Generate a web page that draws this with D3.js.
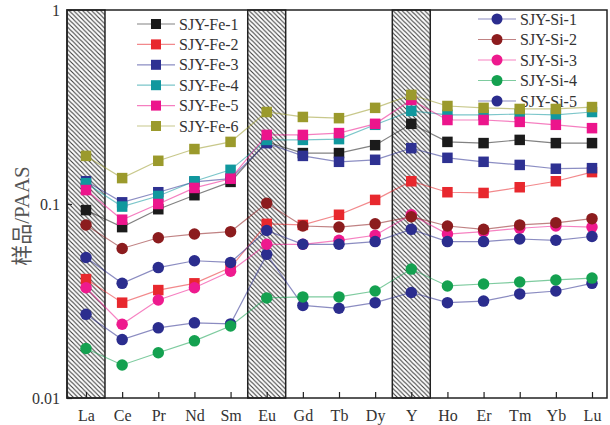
<!DOCTYPE html>
<html>
<head>
<meta charset="utf-8">
<script src="https://cdn.jsdelivr.net/npm/d3@7/dist/d3.min.js"></script>
<style>
  html, body { margin: 0; padding: 0; background: #fff; }
  svg { display: block; }
  .serif { font-family: "Liberation Serif", "DejaVu Serif", "Times New Roman", Times, serif; }
</style>
</head>
<body>
<div id="chart"></div>
<script>
"use strict";

// REE + Y, normalised to PAAS
const elements = ["La", "Ce", "Pr", "Nd", "Sm", "Eu", "Gd", "Tb", "Dy", "Y", "Ho", "Er", "Tm", "Yb", "Lu"];
const hatchedElements = ["La", "Eu", "Y"];
const yTicks = [1, 0.1, 0.01];
const yTickLabels = ["1", "0.1", "0.01"];

const fe1 = [0.093, 0.076, 0.094, 0.111, 0.130, 0.209, 0.183, 0.183, 0.201, 0.259, 0.209, 0.206, 0.214, 0.206, 0.206];
const fe2 = [0.041, 0.031, 0.036, 0.039, 0.047, 0.079, 0.078, 0.088, 0.105, 0.131, 0.115, 0.114, 0.122, 0.131, 0.146];
const fe3 = [0.131, 0.102, 0.115, 0.130, 0.135, 0.206, 0.177, 0.165, 0.169, 0.194, 0.173, 0.165, 0.159, 0.152, 0.153];
const fe4 = [0.128, 0.097, 0.110, 0.131, 0.150, 0.214, 0.214, 0.216, 0.256, 0.302, 0.288, 0.288, 0.291, 0.288, 0.298];
const fe5 = [0.118, 0.083, 0.100, 0.121, 0.135, 0.227, 0.227, 0.232, 0.259, 0.344, 0.271, 0.271, 0.265, 0.256, 0.246];
const fe6 = [0.177, 0.136, 0.167, 0.192, 0.209, 0.298, 0.281, 0.277, 0.313, 0.365, 0.320, 0.313, 0.309, 0.309, 0.316];

const si1 = [0.053, 0.039, 0.047, 0.051, 0.050, 0.073, 0.062, 0.062, 0.064, 0.074, 0.064, 0.064, 0.066, 0.065, 0.068];
const si2 = [0.078, 0.059, 0.067, 0.070, 0.072, 0.101, 0.077, 0.076, 0.079, 0.086, 0.077, 0.074, 0.078, 0.080, 0.084];
const si3 = [0.037, 0.024, 0.032, 0.037, 0.045, 0.062, 0.062, 0.065, 0.069, 0.088, 0.070, 0.072, 0.075, 0.077, 0.076];
const si4 = [0.018, 0.0148, 0.0171, 0.0197, 0.0235, 0.0328, 0.0332, 0.0332, 0.0356, 0.0462, 0.0378, 0.0387, 0.0396, 0.0406, 0.0415];
const si5 = [0.027, 0.020, 0.023, 0.0244, 0.0241, 0.055, 0.030, 0.029, 0.031, 0.035, 0.031, 0.0316, 0.0344, 0.0356, 0.039];

const feSeries = [
  { name: "SJY-Fe-1", values: fe1, color: "#1b1b1b" },
  { name: "SJY-Fe-2", values: fe2, color: "#e8282e" },
  { name: "SJY-Fe-3", values: fe3, color: "#2e3192" },
  { name: "SJY-Fe-4", values: fe4, color: "#10989e" },
  { name: "SJY-Fe-5", values: fe5, color: "#ec158c" },
  { name: "SJY-Fe-6", values: fe6, color: "#9b9a2c" }
];
const siSeries = [
  { name: "SJY-Si-1", values: si1, color: "#2b2d8e" },
  { name: "SJY-Si-2", values: si2, color: "#8c1c1e" },
  { name: "SJY-Si-3", values: si3, color: "#ee1a8e" },
  { name: "SJY-Si-4", values: si4, color: "#14a150" },
  { name: "SJY-Si-5", values: si5, color: "#2b2d8e" }
];

const W = 610, H = 425;
const plotL = 67, plotR = 607, plotT = 10, plotB = 398;

const x = d3.scalePoint().domain(elements).range([plotL + 19, plotR - 15]);
const y = d3.scaleLog().domain([0.01, 1]).range([plotB, plotT]);
const bandW = x.step() * 1.05;

const svg = d3.select("#chart").append("svg")
  .attr("width", W).attr("height", H)
  .attr("viewBox", `0 0 ${W} ${H}`);

// hatch pattern
const defs = svg.append("defs");
const pat = defs.append("pattern")
  .attr("id", "hatch")
  .attr("patternUnits", "userSpaceOnUse")
  .attr("width", 4.5).attr("height", 4.5);
pat.append("rect").attr("width", 4.5).attr("height", 4.5).attr("fill", "#fff");
pat.append("path")
  .attr("d", "M-1,-1 L5.5,5.5 M-1,3.5 L1,5.5 M3.5,-1 L5.5,1")
  .attr("stroke", "#3a3a3a").attr("stroke-width", 1.1);

// hatched bands
svg.selectAll("rect.band")
  .data(hatchedElements)
  .join("rect")
  .attr("class", "band")
  .attr("x", (d) => x(d) - bandW / 2)
  .attr("y", plotT)
  .attr("width", bandW)
  .attr("height", plotB - plotT)
  .attr("fill", "url(#hatch)")
  .attr("stroke", "#222")
  .attr("stroke-width", 1.5);

// axes with inward ticks
const xAxis = svg.append("g")
  .attr("transform", `translate(0,${plotB})`)
  .call(d3.axisBottom(x).tickSizeInner(-6).tickSizeOuter(0).tickPadding(12));
const yAxis = svg.append("g")
  .attr("transform", `translate(${plotL},0)`)
  .call(d3.axisLeft(y).tickValues(yTicks)
    .tickFormat((d, i) => yTickLabels[i])
    .tickSizeInner(-5).tickSizeOuter(0).tickPadding(7));
[xAxis, yAxis].forEach((g) => {
  g.attr("font-family", null).attr("font-size", null);
  g.select(".domain").remove();
  g.selectAll("line").attr("stroke", "#222").attr("stroke-width", 1.2);
  g.selectAll("text")
    .attr("class", "serif")
    .style("font-size", "16px")
    .attr("fill", "#333");
});

// frame
svg.append("rect")
  .attr("x", plotL).attr("y", plotT)
  .attr("width", plotR - plotL).attr("height", plotB - plotT)
  .attr("fill", "none")
  .attr("stroke", "#222")
  .attr("stroke-width", 1.5);

// y label
svg.append("text")
  .attr("transform", `translate(29,${(plotT + plotB) / 2 + 12}) rotate(-90)`)
  .attr("text-anchor", "middle")
  .style("font-family", "'Liberation Serif', 'DejaVu Serif', 'Noto Sans CJK SC', serif")
  .style("font-size", "21px")
  .attr("fill", "#555")
  .text("样品/PAAS");

function marker(g, shape, color, cx, cy, size) {
  if (shape === "square") {
    g.append("rect")
      .attr("x", cx - size / 2).attr("y", cy - size / 2)
      .attr("width", size).attr("height", size)
      .attr("fill", color);
  } else {
    g.append("circle")
      .attr("cx", cx).attr("cy", cy).attr("r", size / 2)
      .attr("fill", color);
  }
}

// legends (drawn under the data)
function legend(series, shape, lx, ly0, dy) {
  series.forEach((s, i) => {
    const ly = ly0 + i * dy;
    const g = svg.append("g");
    g.append("line")
      .attr("x1", lx - 19).attr("x2", lx + 19)
      .attr("y1", ly).attr("y2", ly)
      .attr("stroke", s.color).attr("stroke-opacity", 0.55).attr("stroke-width", 1.2);
    marker(g, shape, s.color, lx, ly, shape === "square" ? 10 : 11);
    g.append("text")
      .attr("class", "serif")
      .attr("x", lx + 23).attr("y", ly + 5.5)
      .style("font-size", "16px")
      .attr("fill", "#333")
      .text(s.name);
  });
}
legend(feSeries, "square", 156, 24, 20.4);
legend(siSeries, "circle", 497, 19, 20.5);

// data
const line = d3.line()
  .x((d, i) => x(elements[i]))
  .y((d) => y(d));

function drawSeries(series, shape) {
  series.forEach((s) => {
    const g = svg.append("g");
    g.append("path")
      .attr("d", line(s.values))
      .attr("fill", "none")
      .attr("stroke", s.color)
      .attr("stroke-opacity", 0.55)
      .attr("stroke-width", 1.2);
    s.values.forEach((v, i) => {
      marker(g, shape, s.color, x(elements[i]), y(v), shape === "square" ? 10.5 : 11.5);
    });
  });
}
drawSeries(feSeries, "square");
drawSeries(siSeries.slice().reverse(), "circle");
</script>
</body>
</html>
